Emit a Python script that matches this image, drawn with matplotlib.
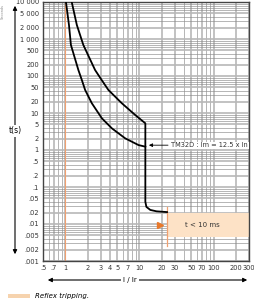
import numpy as np
import matplotlib
matplotlib.use("Agg")
import matplotlib.pyplot as plt
from matplotlib.patches import Rectangle

# tripping curve (I/Ir, t in s)
lower_x = [1.02, 1.12, 1.19, 1.5, 1.67, 1.85, 2.28, 3.11, 4.24, 6.41, 9.7, 12.0]
lower_t = [10000, 2390, 689, 145, 78, 41.9, 18.3, 7.19, 3.86, 2.07, 1.36, 1.23]
upper_x = [1.22, 1.43, 1.75, 2.52, 3.09, 3.81, 5.79, 8.76, 12.0]
upper_t = [10000, 2390, 689, 145, 78, 41.9, 18.3, 8.83, 5.26]
inst_x = [12.0, 12.0, 12.4, 14.0, 17.0, 23.5]
inst_t = [5.26, 0.04, 0.029, 0.024, 0.022, 0.021]

x_ticks = [0.5, 0.7, 1, 2, 3, 4, 5, 7, 10, 20, 30, 50, 70, 100, 200, 300]
x_labels = [".5", ".7", "1", "2", "3", "4", "5", "7", "10", "20", "30", "50", "70", "100", "200", "300"]
y_ticks = [10000, 5000, 2000, 1000, 500, 200, 100, 50, 20, 10, 5, 2, 1,
           0.5, 0.2, 0.1, 0.05, 0.02, 0.01, 0.005, 0.002, 0.001]
y_labels = ["10 000", "5 000", "2 000", "1 000", "500", "200", "100", "50", "20", "10", "5", "2", "1",
            ".5", ".2", ".1", ".05", ".02", ".01", ".005", ".002", ".001"]

reflex_x = (23.5, 300)
reflex_t = (0.0045, 0.02)

orange = "#f0a070"
peach = "#fde2c6"

fig = plt.figure(figsize=(2.54, 2.99), dpi=100)
ax = fig.add_axes([43 / 254, 1 - 261 / 299, 206 / 254, 259 / 299])
ax.set_xscale("log")
ax.set_yscale("log")
ax.set_xlim(0.5, 300)
ax.set_ylim(0.001, 10000)

# grid
ax.grid(True, which="major", color="#b8b8b8", lw=1.2)
ax.grid(True, which="minor", color="#8c8c8c", lw=0.45)
ax.set_axisbelow(True)

ax.set_xticks(x_ticks)
ax.set_xticklabels(x_labels)
ax.set_yticks(y_ticks)
ax.set_yticklabels(y_labels)
ax.xaxis.set_minor_locator(matplotlib.ticker.LogLocator(subs=np.arange(2, 10)))
ax.yaxis.set_minor_locator(matplotlib.ticker.LogLocator(subs=np.arange(2, 10), numticks=20))
ax.xaxis.set_minor_formatter(matplotlib.ticker.NullFormatter())
ax.yaxis.set_minor_formatter(matplotlib.ticker.NullFormatter())
ax.tick_params(which="both", length=0, labelsize=4.8, colors="#333333", pad=3)
for s in ax.spines.values():
    s.set_color("#444444")
    s.set_linewidth(1.0)

# reflex tripping zone
ax.add_patch(Rectangle((reflex_x[0], reflex_t[0]), reflex_x[1] - reflex_x[0],
                       reflex_t[1] - reflex_t[0], facecolor=peach, edgecolor="none", zorder=2))
ax.plot([reflex_x[0], reflex_x[0]], [0.0025, 0.028], color=orange, lw=0.9, zorder=3)
ax.plot([19], [0.0095], marker=">", color="#e8782a", ms=5, zorder=3)
ax.text(70, 0.0095, "t < 10 ms", fontsize=5, ha="center", va="center", color="#333333", zorder=4)

ax.axvline(1, color=orange, lw=0.8, zorder=2)

ax.plot(lower_x, lower_t, color="black", lw=1.3, zorder=5)
ax.plot(upper_x + inst_x, upper_t + inst_t, color="black", lw=1.3, zorder=5)

ax.annotate("TM32D : Im = 12.5 x In", xy=(12.3, 1.35), xytext=(27, 1.35),
            fontsize=4.8, va="center", ha="left", color="#333333",
            bbox=dict(facecolor="white", edgecolor="none", pad=0.5),
            arrowprops=dict(arrowstyle="-|>", color="black", lw=0.6, mutation_scale=5), zorder=6)

# axis arrows
fig.patches.append(matplotlib.patches.FancyArrowPatch(
    (15 / 254, 1 - 257 / 299), (15 / 254, 1 - 3 / 299), transform=fig.transFigure,
    arrowstyle="<|-|>", mutation_scale=6, color="black", lw=0.8))
fig.text(15 / 254, 1 - 131 / 299, "t(s)", fontsize=5.5, ha="center", va="center",
         bbox=dict(facecolor="white", edgecolor="none", pad=1))
fig.patches.append(matplotlib.patches.FancyArrowPatch(
    (45 / 254, 1 - 280 / 299), (250 / 254, 1 - 280 / 299), transform=fig.transFigure,
    arrowstyle="<|-|>", mutation_scale=6, color="black", lw=0.8))
fig.text(130 / 254, 1 - 280 / 299, "I / Ir", fontsize=5, ha="center", va="center",
         bbox=dict(facecolor="white", edgecolor="none", pad=1.5))
fig.text(3 / 254, 1 - 4 / 299, "Seconds", fontsize=2.5, rotation=90, ha="center", va="top", color="#888888")

# legend
fig.patches.append(Rectangle((8 / 254, 1 - 298 / 299), 22 / 254, 4 / 299,
                             transform=fig.transFigure, facecolor="#f6d3ae", edgecolor="none"))
fig.text(35 / 254, 1 - 296 / 299, "Reflex tripping.", fontsize=5, style="italic", va="center")

fig.savefig("out.png", dpi=100)
